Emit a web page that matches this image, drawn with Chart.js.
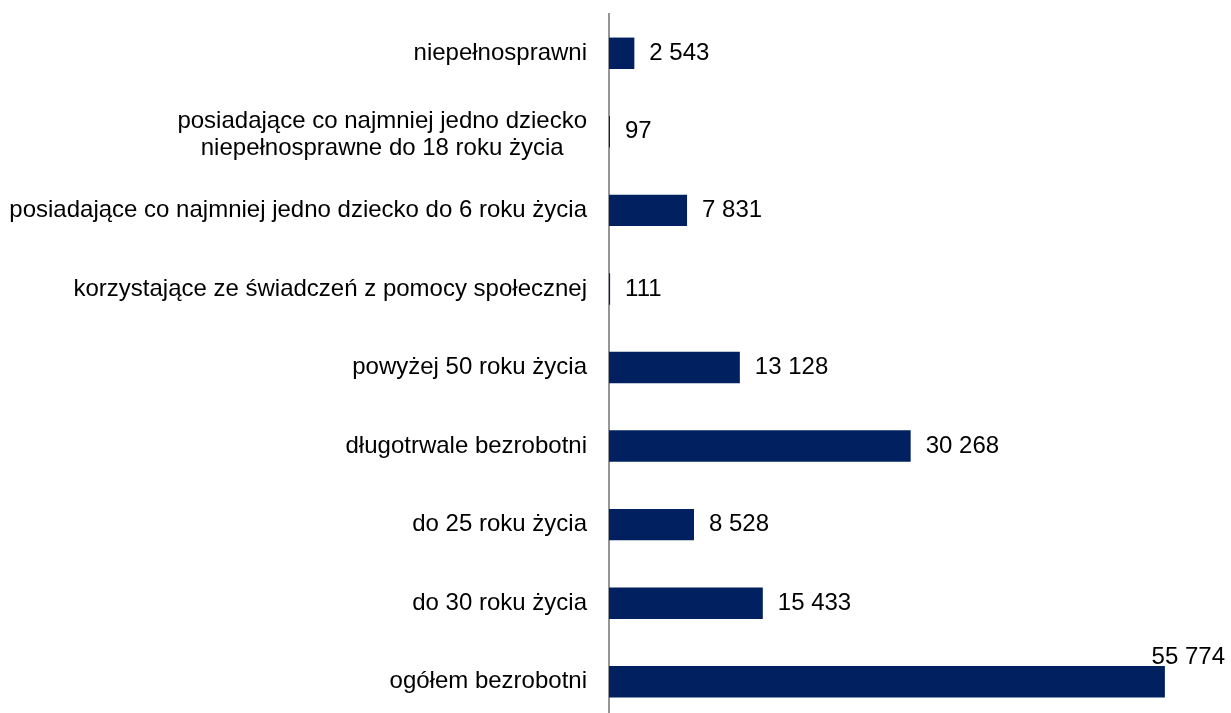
<!DOCTYPE html>
<html>
<head>
<meta charset="utf-8">
<script src="https://cdn.jsdelivr.net/npm/chart.js@4"></script>
<style>
  html, body { margin: 0; padding: 0; background: #fff; overflow: hidden; }
</style>
</head>
<body>
<canvas id="chart" width="1231" height="722"></canvas>
<script>
// --- data ---
const categories = [
  'niepełnosprawni',
  ['posiadające co najmniej jedno dziecko', 'niepełnosprawne do 18 roku życia'],
  'posiadające co najmniej jedno dziecko do 6 roku życia',
  'korzystające ze świadczeń z pomocy społecznej',
  'powyżej 50 roku życia',
  'długotrwale bezrobotni',
  'do 25 roku życia',
  'do 30 roku życia',
  'ogółem bezrobotni'
];
const values = [2543, 97, 7831, 111, 13128, 30268, 8528, 15433, 55774];

const FONT = 'Arial, "Liberation Sans", sans-serif';
const FONT_SIZE = 24;
const BAR_COLOR = '#002060';

// space-separated thousands, like the source
const fmt = v => String(v).replace(/\B(?=(\d{3})+(?!\d))/g, ' ');

// --- category labels: block right-aligned to the axis, lines centred ---
const categoryLabels = {
  id: 'categoryLabels',
  afterDraw(chart) {
    const ctx = chart.ctx;
    const yScale = chart.scales.y;
    const rightEdge = chart.chartArea.left - 22;
    const lineH = 27;
    ctx.save();
    ctx.font = FONT_SIZE + 'px ' + FONT;
    ctx.fillStyle = '#000';
    ctx.textBaseline = 'middle';
    ctx.textAlign = 'center';
    categories.forEach((cat, i) => {
      const lines = Array.isArray(cat) ? cat : [cat];
      const blockW = Math.max(...lines.map(l => ctx.measureText(l).width));
      const cx = rightEdge - blockW / 2;
      // multi-line block sits a touch low in the source
      const cy = yScale.getPixelForValue(i) + (lines.length > 1 ? 3 : 0);
      lines.forEach((l, k) => {
        ctx.fillText(l, cx, cy + (k - (lines.length - 1) / 2) * lineH);
      });
    });
    ctx.restore();
  }
};

// --- value labels drawn after the bars ---
const valueLabels = {
  id: 'valueLabels',
  afterDatasetsDraw(chart) {
    const ctx = chart.ctx;
    const meta = chart.getDatasetMeta(0);
    ctx.save();
    ctx.font = FONT_SIZE + 'px ' + FONT;
    ctx.fillStyle = '#000';
    ctx.textBaseline = 'middle';
    meta.data.forEach((bar, i) => {
      const text = fmt(values[i]);
      const w = ctx.measureText(text).width;
      let x = bar.x + 15;
      let y = bar.y;
      if (x + w > chart.width - 5) {
        // no room on the right: sit above the bar end
        x = chart.width - 6 - w;
        y = bar.y - bar.height / 2 - 9;
      }
      ctx.fillText(text, x, y);
    });
    ctx.restore();
  }
};

new Chart(document.getElementById('chart').getContext('2d'), {
  type: 'bar',
  data: {
    labels: categories,
    datasets: [{
      data: values,
      backgroundColor: BAR_COLOR,
      borderWidth: 0,
      categoryPercentage: 1,
      barPercentage: 0.4
    }]
  },
  options: {
    indexAxis: 'y',
    responsive: false,
    animation: false,
    layout: { padding: { top: 14, right: 24, bottom: 1, left: 0 } },
    plugins: {
      legend: { display: false },
      tooltip: { enabled: false }
    },
    scales: {
      x: {
        display: false,
        min: 0,
        max: 60000
      },
      y: {
        z: 1,
        afterFit: scale => {
          scale.width = 609;
          scale.paddingTop = 0;
          scale.paddingBottom = 0;
        },
        grid: { display: false, drawTicks: false },
        border: { display: true, color: '#969696', width: 2 },
        ticks: { display: false }
      }
    }
  },
  plugins: [valueLabels, categoryLabels]
});
</script>
</body>
</html>
